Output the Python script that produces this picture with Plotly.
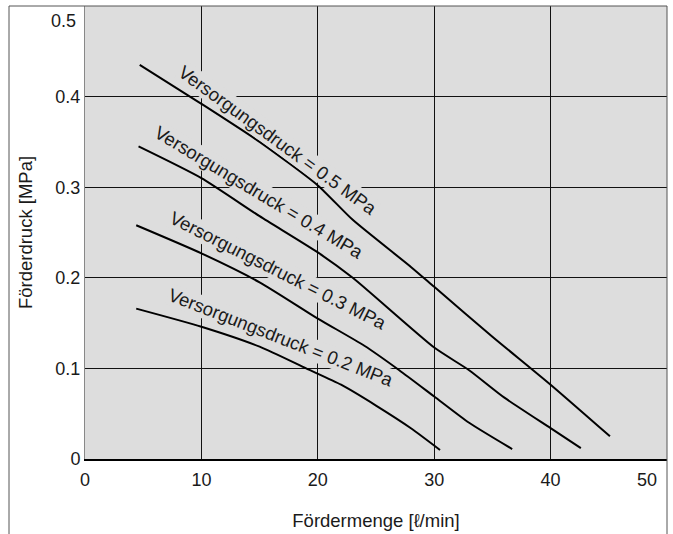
import plotly.graph_objects as go

# Data
flow_05 = [4.7, 10, 15, 20, 23, 28, 30, 35, 40, 45.1]
pres_05 = [0.435, 0.392, 0.350, 0.302, 0.264, 0.212, 0.190, 0.135, 0.082, 0.025]

flow_04 = [4.6, 10, 15, 20, 23, 30, 33, 36, 40, 42.6]
pres_04 = [0.345, 0.310, 0.268, 0.228, 0.200, 0.123, 0.098, 0.068, 0.034, 0.012]

flow_03 = [4.4, 10, 15, 20, 24, 27, 30, 33, 36.7]
pres_03 = [0.258, 0.227, 0.195, 0.155, 0.125, 0.098, 0.069, 0.040, 0.011]

flow_02 = [4.4, 10, 15, 19, 22, 25, 28, 30.5]
pres_02 = [0.166, 0.146, 0.124, 0.100, 0.082, 0.059, 0.034, 0.010]

series_labels = ["Versorgungsdruck = 0.5 MPa", "Versorgungsdruck = 0.4 MPa",
                 "Versorgungsdruck = 0.3 MPa", "Versorgungsdruck = 0.2 MPa"]

x_tickvals = [0, 10, 20, 30, 40, 50]
x_ticktext = ["0", "10", "20", "30", "40", "50"]
y_tickvals = [0, 0.1, 0.2, 0.3, 0.4, 0.5]
y_ticktext = ["0", "0.1", "0.2", "0.3", "0.4", "0.5"]

x_title = "Fördermenge [ℓ/min]"
y_title = "Förderdruck [MPa]"

# label placement (positions / angles, not data)
label_pos = [(16.6, 0.352, 36), (14.96, 0.294, 31), (16.6, 0.2076, 26.8), (16.85, 0.134, 21.3)]

FONT = "Liberation Sans, Arial, Helvetica, sans-serif"
BG = "#dddddd"
TXT = "#1a1a1a"
FS = 18.5

fig = go.Figure()
for xs, ys in [(flow_05, pres_05), (flow_04, pres_04), (flow_03, pres_03), (flow_02, pres_02)]:
    fig.add_trace(go.Scatter(x=xs, y=ys, mode="lines",
                             line=dict(color="black", width=2, shape="spline", smoothing=0.6),
                             showlegend=False, hoverinfo="skip"))

for text, (lx, ly, ang) in zip(series_labels, label_pos):
    fig.add_annotation(x=lx, y=ly, xref="x", yref="y", text=text, showarrow=False,
                       textangle=ang, xanchor="center", yanchor="middle",
                       font=dict(family=FONT, size=FS, color=TXT),
                       bgcolor=BG, borderpad=0)

# end-of-range tick labels are pulled inside the page, as in the reference
fig.add_annotation(x=x_tickvals[-1], y=0, xref="x", yref="y", text=x_ticktext[-1],
                   showarrow=False, xanchor="center", yanchor="middle",
                   xshift=-20, yshift=-21, font=dict(family=FONT, size=18, color=TXT))
fig.add_annotation(x=0, y=y_tickvals[-1], xref="x", yref="y", text=y_ticktext[-1],
                   showarrow=False, xanchor="right", yanchor="middle",
                   xshift=-7, yshift=-15, font=dict(family=FONT, size=18, color=TXT))

# outer frame
fl = (9 - 85) / 582
fb = (459 - 540) / 453
frame_col = "#555555"
fig.add_shape(type="line", xref="paper", yref="paper", x0=fl, y0=1, x1=fl, y1=fb,
              line=dict(color=frame_col, width=1))
fig.add_shape(type="line", xref="paper", yref="paper", x0=fl, y0=1, x1=1, y1=1,
              line=dict(color=frame_col, width=1))
fig.add_shape(type="line", xref="paper", yref="paper", x0=1, y0=1, x1=1, y1=fb,
              line=dict(color=frame_col, width=1))

fig.update_layout(
    width=673, height=534,
    margin=dict(l=85, r=6, t=6, b=75, pad=0, autoexpand=False),
    paper_bgcolor="white", plot_bgcolor=BG,
    font=dict(family=FONT, size=18, color=TXT),
    xaxis=dict(range=[0, 50], tickvals=x_tickvals[:-1], ticktext=x_ticktext[:-1],
               showgrid=True, gridcolor="#111111", gridwidth=1, zeroline=False,
               showline=True, linecolor="black", linewidth=2, ticks="",
               ticklabelstandoff=3, ticklabeloverflow="allow", automargin=False,
               title=dict(text=x_title, font=dict(size=FS), standoff=25)),
    yaxis=dict(range=[0, 0.5], tickvals=y_tickvals[:-1], ticktext=y_ticktext[:-1],
               showgrid=True, gridcolor="#111111", gridwidth=1, zeroline=False,
               showline=True, linecolor="#888888", linewidth=1, ticks="",
               ticklabelstandoff=0, ticklabeloverflow="allow", automargin=False,
               title=dict(text=y_title, font=dict(size=FS), standoff=17)),
)

fig.write_html("out.html", config={"displayModeBar": False},
               post_script="document.body.style.margin='0';document.body.style.overflow='hidden';")
